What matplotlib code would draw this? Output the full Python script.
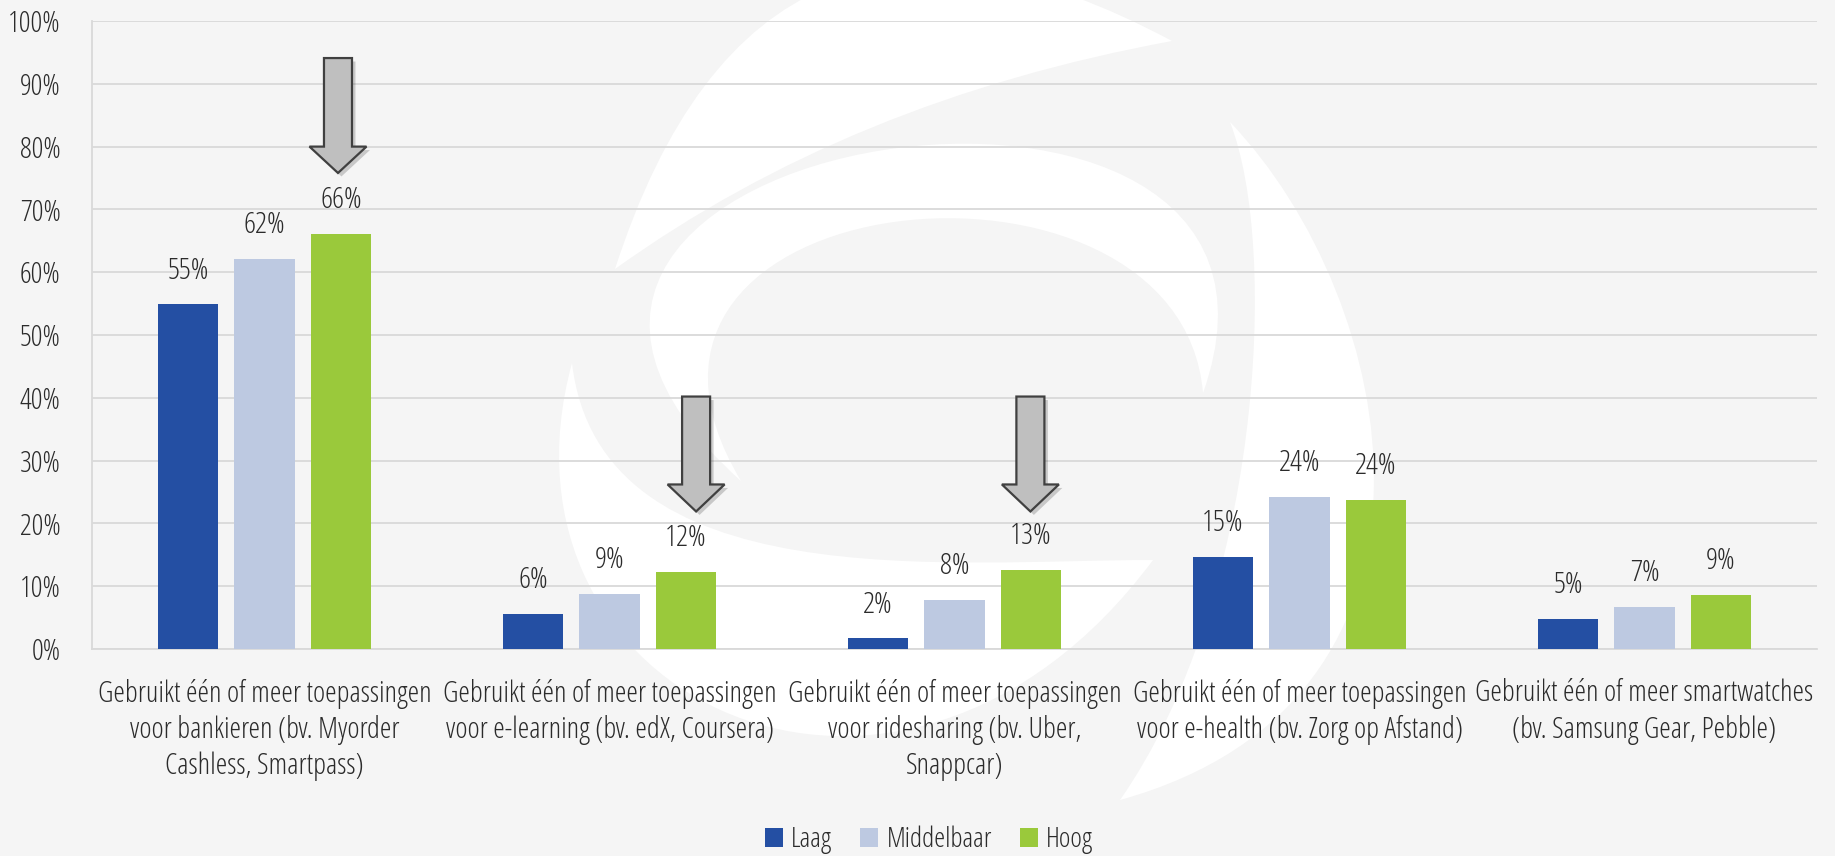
import os
import numpy as np
import matplotlib
matplotlib.use("Agg")
import matplotlib.pyplot as plt
from matplotlib import font_manager as fm
from matplotlib.path import Path
from matplotlib.patches import PathPatch, Polygon, Patch
import matplotlib.transforms as mtransforms
import matplotlib.patheffects as pe

# ---------------- data ----------------
categories = [
    "Gebruikt één of meer toepassingen\nvoor bankieren (bv. Myorder\nCashless, Smartpass)",
    "Gebruikt één of meer toepassingen\nvoor e-learning (bv. edX, Coursera)",
    "Gebruikt één of meer toepassingen\nvoor ridesharing (bv. Uber,\nSnappcar)",
    "Gebruikt één of meer toepassingen\nvoor e-health (bv. Zorg op Afstand)",
    "Gebruikt één of meer smartwatches\n(bv. Samsung Gear, Pebble)",
]
series_names = ["Laag", "Middelbaar", "Hoog"]
laag = [54.9, 5.6, 1.7, 14.7, 4.8]
middelbaar = [62.1, 8.8, 7.8, 24.2, 6.7]
hoog = [66.1, 12.3, 12.6, 23.8, 8.6]
yticks = [0, 10, 20, 30, 40, 50, 60, 70, 80, 90, 100]
ytick_labels = ["0%", "10%", "20%", "30%", "40%", "50%", "60%", "70%", "80%", "90%", "100%"]

colors = ["#244fa3", "#bdc9e1", "#9ac93b"]
BG = "#f5f5f5"
GRID = "#d9d9d9"
TXT = "#2b2b2b"

# ---------------- font ----------------
def pick_font():
    files = sorted({os.path.basename(f.fname).lower(): f.fname
                    for f in fm.fontManager.ttflist}.items())
    prefs = ["opensanscondensed-light", "opensans_condensed-light", "opensans-condlight",
             "opensanscondensed-regular", "opensans-condensed", "opensanscondensed",
             "notosans-condensedlight", "notosans-condensed.", "notosans-condensed-regular",
             "robotocondensed-light", "robotocondensed-regular", "roboto_condensed-light",
             "roboto_condensed-regular", "liberationsansnarrow-regular", "dejavusanscondensed."]
    for p in prefs:
        for b, path in files:
            if p in b and "italic" not in b and "bold" not in b:
                return fm.FontProperties(fname=path)
    return fm.FontProperties(family=["Open Sans", "DejaVu Sans"])

base_fp = pick_font()
def fp(size):
    f = base_fp.copy()
    f.set_size(size)
    return f

# ---------------- figure ----------------
W, H = 1835, 856
fig = plt.figure(figsize=(W / 100, H / 100), dpi=100, facecolor=BG)

# decorative watermark (white swirl logo) in figure-pixel coordinates
px = mtransforms.Affine2D().scale(1 / W, -1 / H).translate(0, 1) + fig.transFigure
def crescent(p0, c_out, p3, c_in):
    verts = [p0] + list(c_out) + [p3] + list(c_in) + [p0, p0]
    n_out = len(c_out) + 1
    n_in = len(c_in) + 1
    code_out = Path.CURVE3 if len(c_out) == 1 else Path.CURVE4
    code_in = Path.CURVE3 if len(c_in) == 1 else Path.CURVE4
    codes = [Path.MOVETO] + [code_out] * n_out + [code_in] * n_in + [Path.CLOSEPOLY]
    return Path(verts, codes)

arms = [
    crescent((615, 269), [(760, -180)], (1172, 41), [(850, 100)]),
    crescent((741, 481), [(350, 130), (1350, -20)], (1203, 393), [(1180, 120), (560, 180)]),
    crescent((572, 363), [(480, 700), (900, 900)], (1153, 560), [(950, 560), (600, 600)]),
    crescent((1230, 122), [(1400, 300), (1480, 700)], (1120, 800), [(1260, 600), (1280, 250)]),
]
for a in arms:
    fig.add_artist(PathPatch(a, transform=px, facecolor="white", edgecolor="none", zorder=-5))

ax = fig.add_axes([92 / W, 1 - 649 / H, (1817 - 92) / W, (649 - 21) / H])
ax.set_facecolor("none")
ax.set_zorder(1)

x = np.arange(len(categories))
width = 0.174
step = 0.2217
for i, (name, vals) in enumerate(zip(series_names, [laag, middelbaar, hoog])):
    xs = x + (i - 1) * step
    ax.bar(xs, vals, width=width, color=colors[i], label=name, zorder=3)
    for xi, v in zip(xs, vals):
        ax.annotate(f"{round(v)}%", (xi, v), xytext=(0, 24), textcoords="offset points",
                    ha="center", va="center", fontproperties=fp(21.5), color=TXT, zorder=4)

ax.set_xlim(-0.5, len(categories) - 0.5)
ax.set_ylim(0, 100)
ax.set_yticks(yticks)
ax.set_yticklabels(ytick_labels, fontproperties=fp(21.2), color=TXT)
ax.set_xticks(x)
ax.set_xticklabels(categories, fontproperties=fp(21.1), color=TXT, linespacing=1.28,
                   multialignment="center")
ax.tick_params(axis="y", length=0, pad=22.5)
ax.tick_params(axis="x", length=0, pad=21.5)
ax.yaxis.grid(True, color=GRID, lw=1.3, zorder=0)
ax.set_axisbelow(True)
for s in ["top", "right"]:
    ax.spines[s].set_visible(False)
for s in ["left", "bottom"]:
    ax.spines[s].set_color(GRID)
    ax.spines[s].set_linewidth(1.3)

# highlight arrows (annotation shapes): x-centre, top, head base, tip, shaft half, head half
arrow_specs = [
    (0.213, 94.1, 80.0, 75.8, 0.0406, 0.0826),
    (1.251, 40.2, 26.2, 21.9, 0.0406, 0.0826),
    (2.220, 40.2, 26.2, 21.9, 0.0406, 0.0826),
]
for xc, top, hb, tip, s, h in arrow_specs:
    verts = [(xc - s, top), (xc + s, top), (xc + s, hb), (xc + h, hb), (xc, tip),
             (xc - h, hb), (xc - s, hb)]
    poly = Polygon(verts, closed=True, facecolor="#bfbfbf", edgecolor="#404040", lw=1.6,
                   joinstyle="miter", zorder=5)
    poly.set_path_effects([pe.SimplePatchShadow(offset=(2.5, -2.5), shadow_rgbFace="black",
                                                alpha=0.18), pe.Normal()])
    ax.add_patch(poly)

handles = [Patch(facecolor=c, edgecolor="none") for c in colors]
fig.legend(handles, series_names, loc="center", bbox_to_anchor=(929 / W, 1 - 840 / H),
           ncol=3, frameon=False, prop=fp(20), handlelength=0.65, handleheight=0.65,
           handletextpad=0.3, columnspacing=1.0, borderpad=0, labelcolor=TXT)

fig.savefig("out.png", dpi=100, facecolor=BG)
